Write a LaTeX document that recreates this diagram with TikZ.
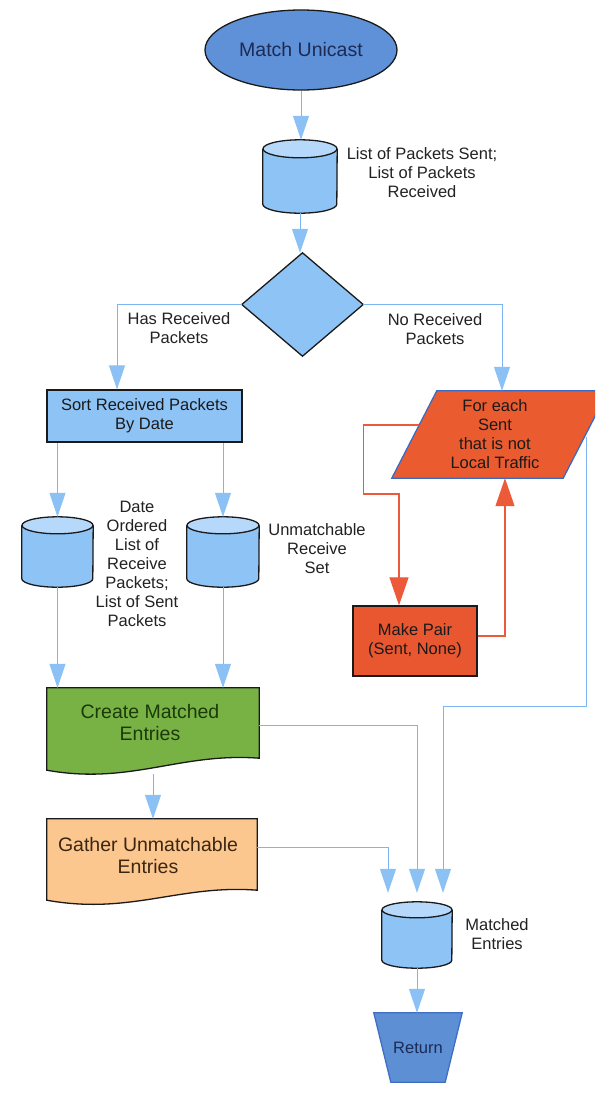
\documentclass[tikz,border=0pt]{standalone}
\usepackage{fontspec}
\setmainfont{Liberation Sans}
\usetikzlibrary{arrows.meta,calc,shapes.geometric}
\definecolor{darkc}{HTML}{1A1A1A}
\definecolor{labelc}{HTML}{222222}
\definecolor{titlec}{HTML}{5E91D7}
\definecolor{navyc}{HTML}{1C2A55}
\definecolor{lightc}{HTML}{8EC3F6}
\definecolor{cyltopc}{HTML}{B6D9FB}
\definecolor{connc}{HTML}{7DB4F2}
\definecolor{arrc}{HTML}{8CC1F5}
\definecolor{redc}{HTML}{EC5A3A}
\definecolor{parc}{HTML}{EA5B30}
\definecolor{parborder}{HTML}{3A6BC4}
\definecolor{mpc}{HTML}{E8572F}
\definecolor{greenc}{HTML}{78B244}
\definecolor{greentxt}{HTML}{1B3A0A}
\definecolor{orangec}{HTML}{FCC68F}
\definecolor{orangetxt}{HTML}{3B2612}
\definecolor{retc}{HTML}{5D8FD4}
\definecolor{retborder}{HTML}{3F6FC4}
\newcommand\cylshape[3]{%
  \fill[lightc] ([yshift=-#3]#1.north west) -- ([yshift=#3]#1.south west)
    arc[start angle=180,end angle=360,x radius=#2,y radius=#3]
    -- ([yshift=-#3]#1.north east)
    arc[start angle=0,end angle=180,x radius=#2,y radius=#3] -- cycle;
  \fill[cyltopc] ([yshift=-#3]#1.north) ellipse[x radius=#2,y radius=#3];
  \draw[outl] ([yshift=-#3]#1.north) ellipse[x radius=#2,y radius=#3];
  \draw[outl] ([yshift=-#3]#1.north west) -- ([yshift=#3]#1.south west)
    arc[start angle=180,end angle=360,x radius=#2,y radius=#3]
    -- ([yshift=-#3]#1.north east);
}
\begin{document}
\begin{tikzpicture}[x=1pt,y=1pt,
  txt/.style={font=\fontsize{16.5}{19}\selectfont, align=center, text=labelc, inner sep=0},
  bigtxt/.style={font=\fontsize{19.5}{22}\selectfont, align=center, inner sep=0},
  box/.style={draw=none, inner sep=0, rectangle},
  outl/.style={draw=darkc, line width=1.3pt},
  conn/.style={draw=connc, line width=1pt, -{Triangle[width=16pt,length=24pt,color=arrc]}},
  rconn/.style={draw=redc, line width=1.2pt, -{Triangle[width=19pt,length=28pt,color=redc]}}
]
\useasboundingbox (0,0) rectangle (595,-1093);
\clip (0,0) rectangle (595,-1093);
\fill[white] (0,0) rectangle (595,-1093);

% title
\node[ellipse, draw=darkc, line width=1.3pt, fill=titlec, minimum width=192pt, minimum height=80pt, bigtxt, text=navyc] (start) at (301,-50) {Match Unicast};

% cylinder 1
\node[box, minimum width=74pt, minimum height=73pt] (cyl1) at (300,-176.5) {};
\cylshape{cyl1}{37pt}{9pt}
\node[txt] (lbl1) at (422,-173) {List of Packets Sent;\\List of Packets\\Received};

% decision
\node[box, minimum width=121pt, minimum height=103pt] (dec) at (302.5,-304.5) {};
\filldraw[fill=lightc, outl] (dec.north) -- (dec.east) -- (dec.south) -- (dec.west) -- cycle;
\node[txt] (haslbl) at (179,-328) {Has Received\\Packets};
\node[txt] (nolbl) at (435,-329) {No Received\\Packets};

% sort box
\node[rectangle, draw=darkc, line width=1.3pt, fill=lightc, minimum width=195pt, minimum height=52pt, inner sep=0, txt, text=darkc] (sort) at (144.5,-416) {Sort Received Packets\\By Date};

% cylinders A, B
\node[box, minimum width=71pt, minimum height=70pt] (cylA) at (57.5,-552) {};
\cylshape{cylA}{35.5pt}{8.5pt}
\node[box, minimum width=72pt, minimum height=70pt] (cylB) at (223,-552) {};
\cylshape{cylB}{36pt}{8.5pt}
\node[txt] (lblA) at (137,-563.5) {Date\\Ordered\\List of\\Receive\\Packets;\\List of Sent\\Packets};
\node[txt] (lblB) at (317,-549) {Unmatchable\\Receive\\Set};

% parallelogram
\node[box, minimum width=216pt, minimum height=87pt] (par) at (500,-434.5) {};
\filldraw[fill=parc, draw=parborder, line width=1.3pt] ([xshift=45pt]par.north west) -- (par.north east) -- ([xshift=-45pt]par.south east) -- (par.south west) -- cycle;
\node[txt, text=darkc] (partxt) at (495,-434) {For each\\Sent\\that is not\\Local Traffic};

% make pair
\node[rectangle, draw=darkc, line width=1.3pt, fill=mpc, minimum width=124pt, minimum height=70pt, inner sep=0, txt, text=darkc] (mp) at (415,-641) {Make Pair\\(Sent, None)};

% create
\node[box, minimum width=212pt, minimum height=82pt] (create) at (153,-729) {};
\filldraw[fill=greenc, outl] (create.north west) -- (create.north east) -- ([yshift=12pt]create.south east)
  .. controls +(-79,6) and +(83,-15) .. (create.south west) -- cycle;
\node[bigtxt, text=greentxt] (createtxt) at (150,-723) {Create Matched\\Entries};

% gather
\node[box, minimum width=210pt, minimum height=81pt] (gather) at (152,-859.5) {};
\filldraw[fill=orangec, outl] (gather.north west) -- (gather.north east) -- ([yshift=10pt]gather.south east)
  .. controls +(-77,6) and +(83,-15) .. (gather.south west) -- cycle;
\node[bigtxt, text=orangetxt] (gathertxt) at (148,-856) {Gather Unmatchable\\Entries};

% matched cylinder
\node[box, minimum width=70pt, minimum height=66pt] (mcyl) at (417,-935) {};
\cylshape{mcyl}{35pt}{8pt}
\node[txt] (lblM) at (497,-934) {Matched\\Entries};

% return
\node[box, minimum width=88pt, minimum height=69pt] (ret) at (418,-1047.5) {};
\filldraw[fill=retc, draw=retborder, line width=1.3pt] (ret.north west) -- (ret.north east) -- ([xshift=-17pt]ret.south east) -- ([xshift=17pt]ret.south west) -- cycle;
\node[txt, text=navyc] (rettxt) at (ret.center) {Return};

% connectors
\draw[conn] (start.south) -- (start.south |- cyl1.north);
\draw[conn] (cyl1.south) -- (cyl1.south |- dec.north);
\draw[conn] (dec.west) -| ([xshift=-27.5pt]sort.north);
\draw[conn] (dec.east) -| ([xshift=2pt]par.north);
\draw[conn] (sort.south -| cylA.north) -- (cylA.north);
\draw[conn] (sort.south -| cylB.north) -- (cylB.north);
\draw[conn] (cylA.south) -- (cylA.south |- create.north);
\draw[conn] (cylB.south) -- (cylB.south |- create.north);
\draw[conn] ([yshift=-4pt]create.south) -- (create.south |- gather.north);
\draw[conn] ([yshift=4pt]create.east) -| ([yshift=9pt]mcyl.north);
\draw[conn] ([yshift=12.5pt]gather.east) -| ([xshift=-29pt,yshift=9pt]mcyl.north);
\draw[conn] ([xshift=-22pt,yshift=-2pt]par.east) -- ++(0,-270) -| ([xshift=26pt,yshift=9pt]mcyl.north);
\draw[conn] (mcyl.south) -- (mcyl.south |- ret.north);
\draw[rconn] ([xshift=27.4pt,yshift=9.5pt]par.west) -- ++(-56,0) -- ++(0,-69) -| ([xshift=-16pt]mp.north);
\draw[rconn] ([yshift=5pt]mp.east) -| ([xshift=5pt]par.south);
\end{tikzpicture}
\end{document}
